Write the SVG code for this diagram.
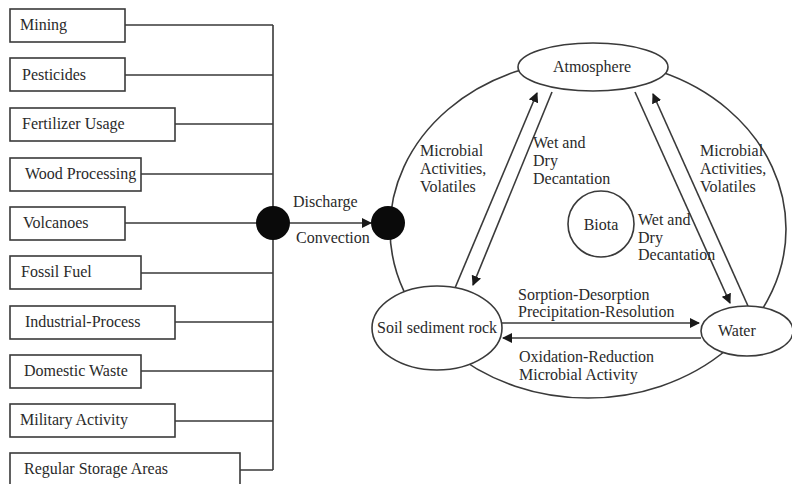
<svg xmlns="http://www.w3.org/2000/svg" width="792" height="484" viewBox="0 0 792 484">
  <defs>
    <style>
      .box { fill: #ffffff; stroke: #3a3a3a; stroke-width: 1.6; }
      .node { fill: #ffffff; stroke: #3a3a3a; stroke-width: 1.6; }
      .wire { fill: none; stroke: #3a3a3a; stroke-width: 1.6; }
      .dot { fill: #0a0a0a; }
      .mid { text-anchor: middle; }
    </style>
    <marker id="arrow" viewBox="0 0 10 10" refX="9" refY="5" markerWidth="10" markerHeight="10" markerUnits="userSpaceOnUse" orient="auto">
      <path d="M0,0 L10,5 L0,10 Z" fill="#1a1a1a"/>
    </marker>
  </defs>

  <rect width="792" height="484" fill="#ffffff"/>

  <!-- connectors -->
  <g id="connectors">
    <!-- source bus -->
    <path class="wire" d="M125,25 H273 M125,75 H273 M175,124 H273 M141,174 H273 M125,223 H273 M141,273 H273 M175,322 H273 M141,371 H273 M175,421 H273 M240,470 H273 M273,25 V470"/>
    <line class="wire" x1="290" y1="223" x2="371" y2="223" marker-end="url(#arrow)"/>
    <!-- cycle boundary -->
    <ellipse class="wire" cx="588" cy="229" rx="198" ry="169"/>
    <!-- soil <-> atmosphere -->
    <line class="wire" x1="455" y1="288" x2="537" y2="93" marker-end="url(#arrow)"/>
    <line class="wire" x1="552" y1="92" x2="473" y2="285" marker-end="url(#arrow)"/>
    <!-- atmosphere <-> water -->
    <line class="wire" x1="635" y1="92" x2="730" y2="303" marker-end="url(#arrow)"/>
    <line class="wire" x1="748" y1="306" x2="653" y2="94" marker-end="url(#arrow)"/>
    <!-- soil <-> water -->
    <line class="wire" x1="502" y1="323" x2="699" y2="323" marker-end="url(#arrow)"/>
    <line class="wire" x1="701" y1="338" x2="503" y2="338" marker-end="url(#arrow)"/>
  </g>

  <g font-family="'Liberation Serif', 'Times New Roman', serif" font-size="16" fill="#2a2a2a">
    <!-- sources -->
    <g id="mining"><rect class="box" x="10" y="9" width="115" height="33"/><text x="20" y="30">Mining</text></g>
    <g id="pesticides"><rect class="box" x="10" y="58" width="115" height="33"/><text x="22" y="80">Pesticides</text></g>
    <g id="fertilizer"><rect class="box" x="10" y="108" width="165" height="33"/><text x="22" y="129">Fertilizer Usage</text></g>
    <g id="wood"><rect class="box" x="10" y="158" width="131" height="33"/><text x="25" y="179">Wood Processing</text></g>
    <g id="volcanoes"><rect class="box" x="10" y="207" width="115" height="33"/><text x="23" y="228">Volcanoes</text></g>
    <g id="fossil"><rect class="box" x="10" y="256" width="131" height="33"/><text x="21" y="277">Fossil Fuel</text></g>
    <g id="industrial"><rect class="box" x="10" y="306" width="165" height="33"/><text x="25" y="327">Industrial-Process</text></g>
    <g id="domestic"><rect class="box" x="10" y="355" width="131" height="33"/><text x="24" y="376">Domestic Waste</text></g>
    <g id="military"><rect class="box" x="10" y="404" width="165" height="33"/><text x="20" y="425">Military Activity</text></g>
    <g id="storage"><rect class="box" x="10" y="453" width="230" height="36"/><text x="24" y="474">Regular Storage Areas</text></g>

    <!-- junctions -->
    <g id="junction-source"><circle class="dot" cx="273" cy="223" r="17"/></g>
    <g id="junction-cycle"><circle class="dot" cx="388" cy="223" r="17"/></g>
    <g id="transport-labels">
      <text x="293" y="207">Discharge</text>
      <text x="296" y="243">Convection</text>
    </g>

    <!-- compartments -->
    <g id="atmosphere"><ellipse class="node" cx="593" cy="67" rx="75" ry="24"/><text class="mid" x="592" y="72">Atmosphere</text></g>
    <g id="soil"><ellipse class="node" cx="437" cy="328" rx="65" ry="42"/><text x="377" y="333">Soil sediment rock</text></g>
    <g id="water"><ellipse class="node" cx="747" cy="331" rx="46" ry="25"/><text x="718" y="336">Water</text></g>
    <g id="biota"><circle class="node" cx="601" cy="224" r="33"/><text class="mid" x="601" y="230">Biota</text></g>

    <!-- process labels -->
    <g id="process-labels">
      <text x="420" y="156">Microbial</text>
      <text x="420" y="174">Activities,</text>
      <text x="420" y="192">Volatiles</text>
      <text x="533" y="148">Wet and</text>
      <text x="533" y="166">Dry</text>
      <text x="533" y="184">Decantation</text>
      <text x="700" y="156">Microbial</text>
      <text x="700" y="174">Activities,</text>
      <text x="700" y="192">Volatiles</text>
      <text x="638" y="225">Wet and</text>
      <text x="638" y="243">Dry</text>
      <text x="638" y="260">Decantation</text>
      <text x="518" y="300">Sorption-Desorption</text>
      <text x="518" y="317">Precipitation-Resolution</text>
      <text x="519" y="362">Oxidation-Reduction</text>
      <text x="519" y="380">Microbial Activity</text>
    </g>
  </g>
</svg>
